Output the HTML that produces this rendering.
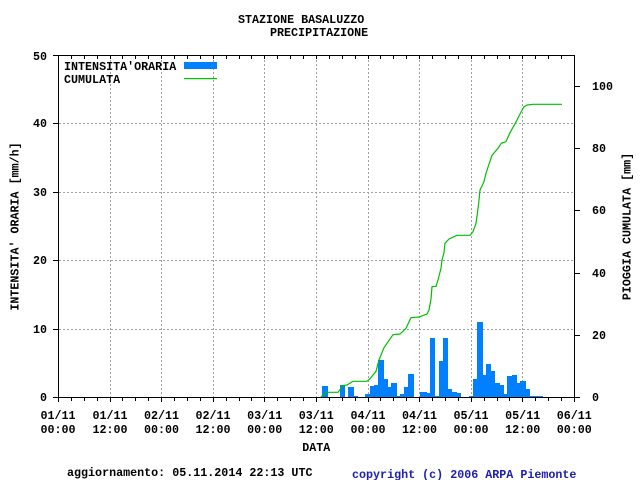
<!DOCTYPE html>
<html><head><meta charset="utf-8"><style>
html,body{margin:0;padding:0;background:#fff;}
svg{display:block;}
text{font-family:"Liberation Mono",monospace;font-weight:bold;font-size:11.7px;fill:#000;}
</style></head><body>
<svg width="640" height="480" viewBox="0 0 640 480" xmlns="http://www.w3.org/2000/svg">
<rect x="0" y="0" width="640" height="480" fill="#fff"/>
<!-- title -->
<text x="238" y="23">STAZIONE BASALUZZO</text>
<text x="270" y="36">PRECIPITAZIONE</text>

<!-- gridlines -->
<g stroke="#a0a0a0" stroke-width="1" stroke-dasharray="2,2" shape-rendering="crispEdges">
<path d="M110.5 56V397M161.5 56V397M213.5 56V397M264.5 56V397M316.5 56V397M368.5 56V397M419.5 56V397M471.5 56V397M522.5 56V397"/>
<path d="M59 329.5H574M59 260.5H574M59 192.5H574M59 123.5H574"/>
</g>

<!-- bars -->
<g fill="#0080ff" shape-rendering="crispEdges">
<rect x="322" y="386" width="6" height="11"/>
<rect x="340" y="385" width="5" height="12"/>
<rect x="348" y="387" width="6" height="10"/>
<rect x="354" y="396" width="4" height="1"/>
<rect x="365" y="394" width="5" height="3"/>
<rect x="370" y="386" width="4" height="11"/>
<rect x="374" y="385" width="4" height="12"/>
<rect x="378" y="360" width="6" height="37"/>
<rect x="384" y="379" width="4" height="18"/>
<rect x="388" y="387" width="3" height="10"/>
<rect x="391" y="383" width="6" height="14"/>
<rect x="397" y="396" width="3" height="1"/>
<rect x="400" y="394" width="4" height="3"/>
<rect x="404" y="387" width="4" height="10"/>
<rect x="408" y="374" width="6" height="23"/>
<rect x="420" y="392" width="7" height="5"/>
<rect x="427" y="393" width="3" height="4"/>
<rect x="430" y="338" width="5" height="59"/>
<rect x="435" y="396" width="4" height="1"/>
<rect x="439" y="361" width="4" height="36"/>
<rect x="443" y="338" width="5" height="59"/>
<rect x="448" y="389" width="4" height="8"/>
<rect x="452" y="392" width="5" height="5"/>
<rect x="457" y="393" width="4" height="4"/>
<rect x="469" y="396" width="4" height="1"/>
<rect x="473" y="379" width="4" height="18"/>
<rect x="477" y="322" width="6" height="75"/>
<rect x="483" y="375" width="3" height="22"/>
<rect x="486" y="364" width="5" height="33"/>
<rect x="491" y="371" width="4" height="26"/>
<rect x="495" y="383" width="5" height="14"/>
<rect x="500" y="385" width="4" height="12"/>
<rect x="504" y="394" width="3" height="3"/>
<rect x="507" y="376" width="5" height="21"/>
<rect x="512" y="375" width="5" height="22"/>
<rect x="517" y="383" width="3" height="14"/>
<rect x="520" y="381" width="6" height="16"/>
<rect x="526" y="389" width="4" height="8"/>
<rect x="530" y="396" width="13" height="1"/>
</g>

<!-- cumulative line -->
<polyline fill="none" stroke="#00c000" stroke-width="1.2" points="321,397 326,392.3 338,392.3 343,385.7 347,385 353,381.3 367,381.3 370,378.7 376,371.3 379,360 384,347.7 393,334.7 400,334 406,328.3 411,317.7 419,317 427,314 429,310 431,299 432,286.7 436,286.3 438,280 441,268.3 442,260 444,252.7 445,243.3 449,239 457,235.3 470,235.3 473,231.7 476,223.3 478.7,203.3 480,190 484,181.7 486,173.3 488.7,165 492,155.3 498,148.3 501.3,143.3 506,141.7 510,132.7 515.3,123.3 520,114 524,106.7 527.3,105 533.3,104.3 562,104.3"/>

<!-- axes frame -->
<g stroke="#000" stroke-width="1" fill="none" shape-rendering="crispEdges">
<path d="M58.5 55V398M574.5 55V398M58 55.5H575M58 397.5H575"/>
<!-- left ticks -->
<path d="M53 397.5H58M53 329.5H58M53 260.5H58M53 192.5H58M53 123.5H58M53 55.5H58"/>
<!-- right ticks -->
<path d="M575 397.5H580M575 335.5H580M575 273.5H580M575 210.5H580M575 148.5H580M575 86.5H580"/>
<!-- bottom minor ticks -->
<path d="M71.5 398V401M84.5 398V401M97.5 398V401M122.5 398V401M135.5 398V401M148.5 398V401M174.5 398V401M187.5 398V401M200.5 398V401M226.5 398V401M239.5 398V401M251.5 398V401M277.5 398V401M290.5 398V401M303.5 398V401M329.5 398V401M342.5 398V401M355.5 398V401M380.5 398V401M393.5 398V401M406.5 398V401M432.5 398V401M445.5 398V401M458.5 398V401M484.5 398V401M497.5 398V401M509.5 398V401M535.5 398V401M548.5 398V401M561.5 398V401"/>
<!-- bottom major ticks -->
<path d="M58.5 398V402M110.5 398V402M161.5 398V402M213.5 398V402M264.5 398V402M316.5 398V402M368.5 398V402M419.5 398V402M471.5 398V402M522.5 398V402M574.5 398V402"/>
<!-- top ticks -->
<path d="M71.5 56V59M84.5 56V59M97.5 56V59M110.5 56V59M122.5 56V59M135.5 56V59M148.5 56V59M161.5 56V59M174.5 56V59M187.5 56V59M200.5 56V59M213.5 56V59M226.5 56V59M239.5 56V59M251.5 56V59M264.5 56V59M277.5 56V59M290.5 56V59M303.5 56V59M316.5 56V59M329.5 56V59M342.5 56V59M355.5 56V59M368.5 56V59M380.5 56V59M393.5 56V59M406.5 56V59M419.5 56V59M432.5 56V59M445.5 56V59M458.5 56V59M471.5 56V59M484.5 56V59M497.5 56V59M509.5 56V59M522.5 56V59M535.5 56V59M548.5 56V59M561.5 56V59"/>
</g>

<!-- legend -->
<rect x="184" y="62" width="33" height="7" fill="#0080ff"/>
<rect x="184" y="78" width="33" height="1.2" fill="#00c000"/>
<text x="64" y="70">INTENSITA'ORARIA</text>
<text x="64" y="83">CUMULATA</text>

<!-- left tick labels -->
<g text-anchor="end">
<text x="47" y="401">0</text>
<text x="47" y="333">10</text>
<text x="47" y="264">20</text>
<text x="47" y="196">30</text>
<text x="47" y="127">40</text>
<text x="47" y="60">50</text>
</g>
<!-- right tick labels -->
<text x="592" y="401">0</text>
<text x="592" y="339">20</text>
<text x="592" y="277">40</text>
<text x="592" y="214">60</text>
<text x="592" y="152">80</text>
<text x="592" y="90">100</text>

<!-- x tick labels -->
<g text-anchor="middle">
<text x="58" y="419">01/11</text><text x="58" y="433">00:00</text>
<text x="110" y="419">01/11</text><text x="110" y="433">12:00</text>
<text x="161.5" y="419">02/11</text><text x="161.5" y="433">00:00</text>
<text x="213" y="419">02/11</text><text x="213" y="433">12:00</text>
<text x="264.7" y="419">03/11</text><text x="264.7" y="433">00:00</text>
<text x="316.3" y="419">03/11</text><text x="316.3" y="433">12:00</text>
<text x="368" y="419">04/11</text><text x="368" y="433">00:00</text>
<text x="419.5" y="419">04/11</text><text x="419.5" y="433">12:00</text>
<text x="471" y="419">05/11</text><text x="471" y="433">00:00</text>
<text x="522.7" y="419">05/11</text><text x="522.7" y="433">12:00</text>
<text x="574.3" y="419">06/11</text><text x="574.3" y="433">00:00</text>
<text x="316.3" y="451">DATA</text>
</g>

<!-- axis titles -->
<text transform="translate(18.5,226.5) rotate(-90)" text-anchor="middle">INTENSITA' ORARIA [mm/h]</text>
<text transform="translate(630.5,226.5) rotate(-90)" text-anchor="middle">PIOGGIA CUMULATA [mm]</text>

<!-- footer -->
<text x="67" y="476">aggiornamento: 05.11.2014 22:13 UTC</text>
<text x="352" y="478" style="fill:#2020b0">copyright (c) 2006 ARPA Piemonte</text>
</svg>
</body></html>
